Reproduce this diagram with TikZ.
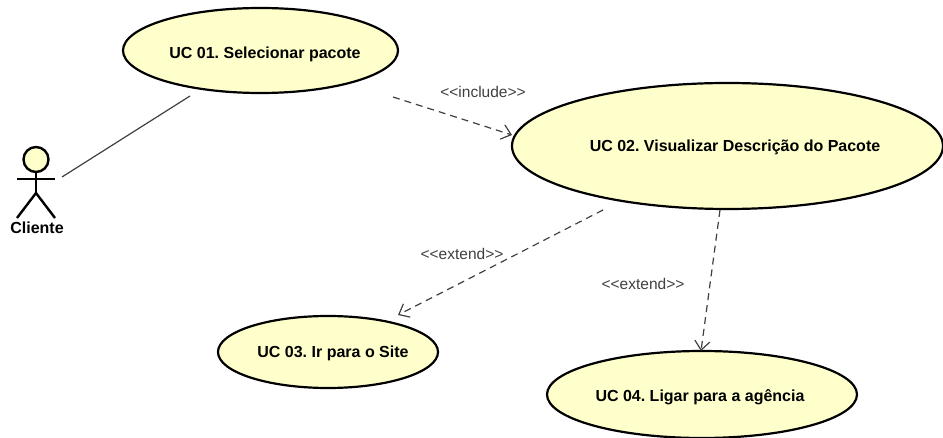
\documentclass[tikz,border=0pt]{standalone}
\usepackage{fontspec}
\setmainfont{Liberation Sans}
\usepackage{xcolor}
\usetikzlibrary{shapes.geometric}
\usetikzlibrary{arrows.meta}
\definecolor{pale}{RGB}{255,255,204}
\definecolor{linkgray}{RGB}{64,64,64}
\frenchspacing
\tikzset{
  usecase/.style={ellipse,draw=black,fill=pale,line width=2.2pt,inner sep=0pt},
  casetext/.style={font=\fontsize{16}{18}\selectfont\bfseries,inner sep=0pt},
  link/.style={linkgray,line width=1.2pt},
  dep/.style={link,dash pattern=on 7pt off 5pt,-{Straight Barb[length=9pt,width=15pt,line width=1.2pt]}},
  stereo/.style={text=linkgray,font=\fontsize{15.5}{18}\selectfont,inner sep=0pt},
  limb/.style={black,line width=2.4pt}
}
\begin{document}
\begin{tikzpicture}[x=1pt,y=-1pt]
  \useasboundingbox (0,0) rectangle (943,438);
  \node[usecase,minimum width=275pt,minimum height=85pt] (uc01) at (260.5,50.5) {};
  \node[casetext] (uc01text) at (265,54) {UC 01. Selecionar pacote};
  \node[usecase,minimum width=431pt,minimum height=126pt] (uc02) at (727.5,146) {};
  \node[casetext] (uc02text) at (735,147) {UC 02. Visualizar Descrição do Pacote};
  \node[usecase,minimum width=220pt,minimum height=72pt] (uc03) at (328,352) {};
  \node[casetext] (uc03text) at (333,353) {UC 03. Ir para o Site};
  \node[usecase,minimum width=310pt,minimum height=87pt] (uc04) at (702,394.5) {};
  \node[casetext] (uc04text) at (700,397) {UC 04. Ligar para a agência};

  \coordinate (hip) at (36,193);
  \coordinate (armL) at (17,179);
  \coordinate (armR) at (55,179);
  \coordinate (footL) at (17,218);
  \coordinate (footR) at (55,218);
  \node[circle,draw=black,fill=pale,line width=2.4pt,minimum size=25pt,inner sep=0pt] (head) at (36,159.5) {};
  \draw[limb] (head.south) -- (hip);
  \draw[limb] (armL) -- (armR);
  \draw[limb] (footL) -- (hip) -- (footR);
  \node[casetext] (cliente) at (37,228) {Cliente};

  \coordinate (clienteEnd) at (62,177);
  \coordinate (uc01End) at (190,96);
  \draw[link] (clienteEnd) -- (uc01End);

  \coordinate (includeStart) at (393,97);
  \coordinate (includeEnd) at (512,135);
  \draw[dep] (includeStart) -- (includeEnd);
  \node[stereo] (includeLabel) at (483,92) {<{}<include>{}>};

  \coordinate (extendAStart) at (603,210);
  \coordinate (extendAEnd) at (398,315);
  \draw[dep] (extendAStart) -- (extendAEnd);
  \node[stereo] (extendALabel) at (462,254) {<{}<extend>{}>};

  \coordinate (extendBStart) at (720,210);
  \coordinate (extendBEnd) at (701,351);
  \draw[dep] (extendBStart) -- (extendBEnd);
  \node[stereo] (extendBLabel) at (643,284) {<{}<extend>{}>};
\end{tikzpicture}
\end{document}
